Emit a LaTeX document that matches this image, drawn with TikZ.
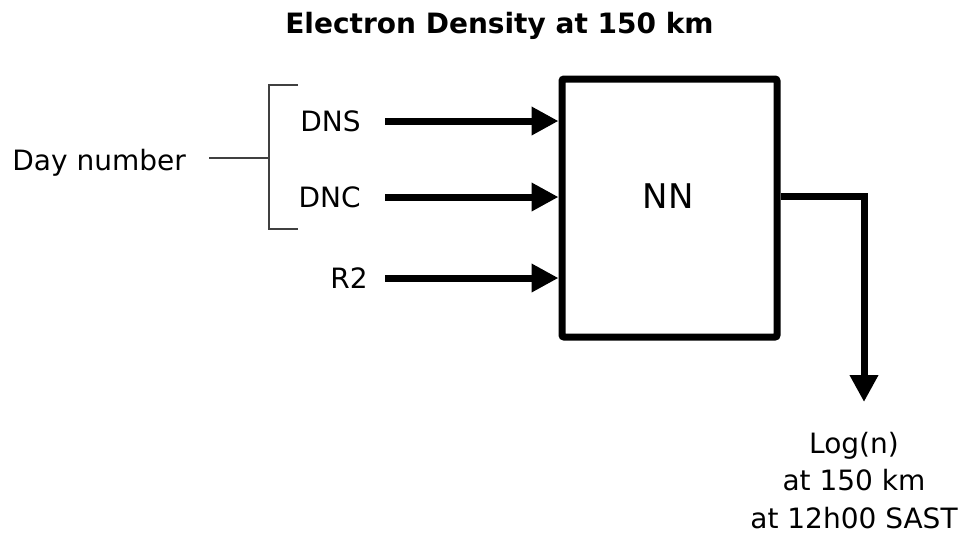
\documentclass[tikz,border=0pt]{standalone}
\usepackage{fontspec}
\setmainfont{DejaVu Sans}
\usetikzlibrary{arrows.meta}
\begin{document}
\begin{tikzpicture}[x=0.5pt,y=-0.5pt,
  every node/.style={font=\fontsize{14}{18.75}\selectfont},
  lbl/.style={anchor=east,inner xsep=12pt,inner ysep=0pt},
  inarrow/.style={line width=3.5pt,-{Triangle[length=13.5pt,width=13.5pt]}},
  outarrow/.style={line width=3.5pt,line join=miter,-{Triangle[length=13.5pt,width=13.5pt]}},
  nnbox/.style={draw,line width=3.5pt,rounded corners=1pt,minimum width=107.5pt,minimum height=129pt,inner sep=0pt},
  brace/.style={line width=0.65pt,draw=black!75}]
\useasboundingbox (0,0) rectangle (963,537);
% title
\node[font=\fontsize{14}{17}\selectfont\bfseries,anchor=base] (title) at (499.5,33) {Electron Density at 150 km};
% box
\node[nnbox] (nn) at (669.5,208) {};
\node[font=\fontsize{17}{20}\selectfont] (nnlabel) at (668,196) {NN};
% inputs
\node[lbl] (dns) at (385,121) {DNS};
\node[lbl] (dnc) at (385,197) {DNC};
\node[lbl,inner xsep=8.5pt] (r2) at (385,278) {R2};
\draw[inarrow] (dns.east) -- (dns.east -| nn.west);
\draw[inarrow] (dnc.east) -- (dnc.east -| nn.west);
\draw[inarrow] (r2.east) -- (r2.east -| nn.west);
% bracket
\coordinate (bt) at (298,85);
\coordinate (bb) at (298,229);
\coordinate (bm) at (269,158);
\node[anchor=base west,inner sep=0pt] (day) at (12,170) {Day number};
\draw[brace] (bt) -- (bt -| bm) -- (bb -| bm) -- (bb);
\draw[brace] (day.east |- bm) ++(23,0) -- (bm);
% output
\coordinate (outtip) at (864,402);
\draw[outarrow] ([yshift=6pt]nn.east) -| (outtip);
\node[align=center,anchor=base] (out) at (854,528) {Log(n)\\at 150 km\\at 12h00 SAST};
\end{tikzpicture}
\end{document}
